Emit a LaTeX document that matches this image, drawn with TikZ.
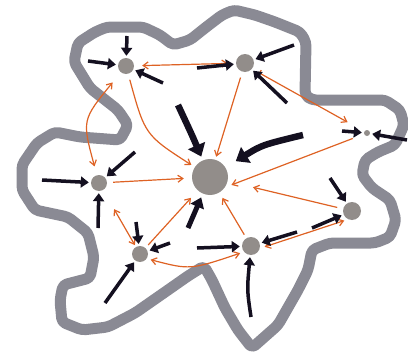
\documentclass[tikz,border=0pt]{standalone}
\usepackage{xcolor}
\definecolor{RimGrey}{RGB}{138,138,148}
\definecolor{CellGrey}{RGB}{146,141,138}
\definecolor{LinkOrange}{RGB}{222,98,36}
\definecolor{PushBlack}{RGB}{20,16,32}
\usepackage{tikz}
\usetikzlibrary{arrows.meta}

\begin{document}
\begin{tikzpicture}[
  x=1pt,y=-1pt,
  cell/.style={circle,fill=CellGrey,inner sep=0pt},
  link/.style={{Straight Barb[length=5pt,width=7pt]}-{Straight Barb[length=5pt,width=7pt]},line width=1.2pt,LinkOrange},
  feed/.style={-{Straight Barb[length=5pt,width=7pt]},line width=1.2pt,LinkOrange},
  push/.style={-{Triangle[length=8pt,width=11pt]},line width=3.5pt,PushBlack,shorten >=2pt},
  bigpush/.style={push,line width=6.5pt,-{Triangle[length=12pt,width=18pt]}}
]
  \useasboundingbox (0,0) rectangle (408,359);
  % outer rim
  \draw[RimGrey,line width=11pt,line join=round,rounded corners=4pt]
    (107,27) -- (143,27) -- (160,35) -- (173,45) -- (190,40) -- (205,28)
    -- (222,15) -- (234,10) -- (255,15) -- (275,22) -- (300,32) -- (306,42)
    -- (305,95) -- (312,100) -- (385,100) -- (400,110) -- (404,125)
    -- (395,145) -- (378,152) -- (365,160) -- (362,175) -- (372,188)
    -- (390,200) -- (396,220) -- (390,237) -- (375,243) -- (330,243)
    -- (312,250) -- (308,270) -- (298,290) -- (278,325) -- (252,348)
    -- (238,330) -- (225,308) -- (212,280) -- (204,266) -- (188,276)
    -- (168,290) -- (135,313) -- (108,327) -- (82,330) -- (62,322)
    -- (60,300) -- (63,285) -- (90,278) -- (94,257) -- (88,233)
    -- (68,217) -- (35,210) -- (22,190) -- (22,165) -- (37,143)
    -- (55,132) -- (80,137) -- (120,140) -- (128,125) -- (118,110)
    -- (90,88) -- (74,62) -- (78,43) -- (95,32) -- cycle;

  % cells
  \node[cell,minimum size=36pt] (hub) at (210,177) {};
  \node[cell,minimum size=16pt] (cellNW) at (126,66) {};
  \node[cell,minimum size=18pt] (cellNE) at (245,63) {};
  \node[cell,minimum size=6pt]  (cellE) at (367,133) {};
  \node[cell,minimum size=18pt] (cellSE) at (352,211) {};
  \node[cell,minimum size=18pt] (cellS) at (251,246) {};
  \node[cell,minimum size=16pt] (cellSW) at (140,254) {};
  \node[cell,minimum size=16pt] (cellW) at (99,183) {};

  % orange links
  \draw[link,shorten <=8pt,shorten >=8pt] (cellNW) -- (cellNE);
  \draw[link,shorten <=13pt,shorten >=9pt] (cellNW) .. controls (82,120) .. (cellW);
  \draw[feed,shorten <=6pt,shorten >=4pt] (cellNW) .. controls (145,135) .. (hub);
  \draw[feed,shorten <=6pt,shorten >=3pt] (cellNE) -- (hub);
  \draw[{Bar[width=7pt]}-{Straight Barb[length=5pt,width=7pt]},line width=1.2pt,LinkOrange,shorten <=8pt,shorten >=19pt] (cellNE.-40) -- (cellE);
  \draw[feed,shorten <=12pt,shorten >=7pt] (cellE) -- (hub.-35);
  \draw[feed,shorten <=6pt,shorten >=26pt] (cellSE) -- (hub);
  \draw[link,shorten <=4pt,shorten >=5pt] (cellSE.-115) -- (cellS.-15);
  \draw[feed,shorten <=4pt,shorten >=6pt] (cellS) -- (hub);
  \draw[link,shorten <=4pt,shorten >=4pt] (cellSW.-35) .. controls (190,270) .. (cellS.-140);
  \draw[feed,shorten <=4pt,shorten >=10pt] (cellSW) -- (hub);
  \draw[feed,shorten <=6pt,shorten >=8pt] (cellW) -- (hub);
  \draw[link,shorten <=22pt,shorten >=2pt] (cellW) -- (cellSW);

  % black pushes
  \foreach \i/\px/\py/\dst in {1/127/36/cellNW, 2/88/61/cellNW, 3/163/83/cellNW,
      4/294/45/cellNE, 5/197/68/cellNE, 6/287/103/cellNE,
      7/407/140/cellE, 8/342/131/cellE,
      12/42/180/cellW, 13/135/152/cellW, 14/98/228/cellW,
      15/136/222/cellSW, 16/170/243/cellSW, 17/105/303/cellSW,
      18/197/248/cellS, 19/297/232/cellS,
      21/330/178/cellSE, 22/312/228/cellSE} {
    \coordinate (s\i) at (\px,\py);
    \draw[push] (s\i) -- (\dst);
  }
  \coordinate (s9) at (178,105);
  \coordinate (s10) at (303,135);
  \coordinate (s11) at (188,228);
  \coordinate (s20) at (251,317);
  \draw[bigpush,shorten >=4pt] (s9) .. controls (192,135) .. (hub);
  \draw[bigpush,shorten >=12pt] (s10) .. controls (262,145) .. (hub);
  \draw[push,line width=5pt,-{Triangle[length=10pt,width=14pt]},shorten >=4pt] (s11) -- (hub);
  \draw[push] (s20) .. controls (247,290) .. (cellS);
\end{tikzpicture}
\end{document}
